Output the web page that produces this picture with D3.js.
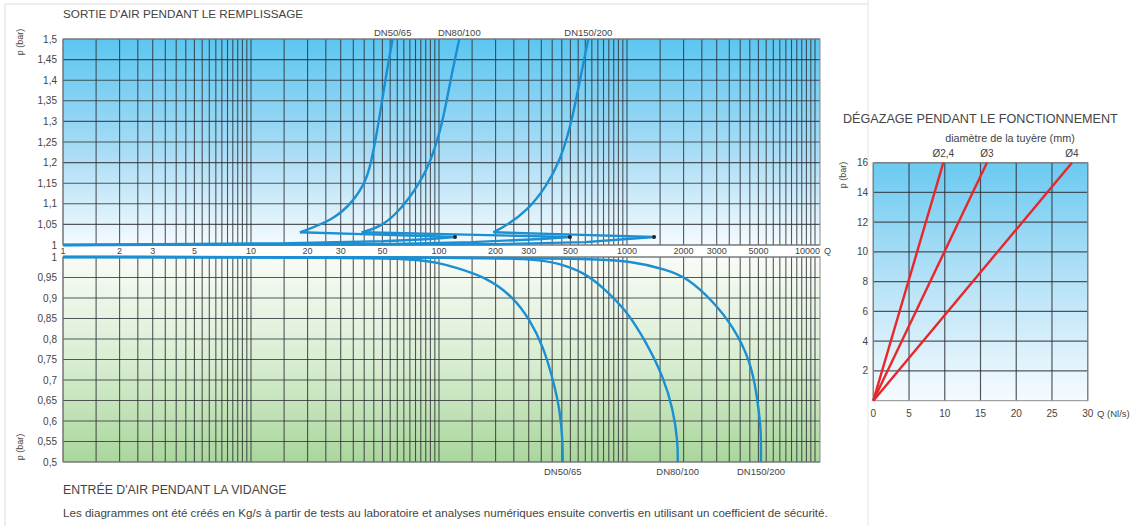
<!DOCTYPE html>
<html>
<head>
<meta charset="utf-8">
<script src="https://cdn.jsdelivr.net/npm/d3@7/dist/d3.min.js"></script>
<style>
  body { margin: 0; background: #fff; }
  text { font-family: "Liberation Sans", Arial, sans-serif; fill: #444; }
</style>
</head>
<body>
<svg id="chart" width="1131" height="526"></svg>
<script>
// ----- Data -----
var qTickLabels = [1, 2, 3, 5, 10, 20, 30, 50, 100, 200, 300, 500, 1000, 2000, 3000, 5000, 10000];
var gridSteps = [1, 1.5, 2, 2.5, 3, 3.5, 4, 4.5, 5, 5.5, 6, 6.5, 7, 7.5, 8, 8.5, 9, 9.5];
var decades = [1, 10, 100, 1000, 10000];
var upperTicks = [1, 1.05, 1.1, 1.15, 1.2, 1.25, 1.3, 1.35, 1.4, 1.45, 1.5];
var lowerTicks = [0.5, 0.55, 0.6, 0.65, 0.7, 0.75, 0.8, 0.85, 0.9, 0.95, 1];

var seriesNames = ['DN50/65', 'DN80/100', 'DN150/200'];

// sortie d'air (Q, p): along p=1 out to the dot, back to the tip (index 6), then up
var outDN50 = [[1, 1.0], [14, 1.004], [50, 1.009], [90, 1.0146], [121.7, 1.0194],
  [47.5, 1.0252], [18.2, 1.0308], [27.4, 1.0607], [35.0, 1.1051], [41.2, 1.1578],
  [43.75, 1.2063], [45.95, 1.2549], [47.97, 1.3034], [50.37, 1.3641], [53.2, 1.432], [56.7, 1.5]];
var outDN80 = [[1, 1.0], [50, 1.002], [150, 1.007], [350, 1.0146], [497, 1.0194],
  [139, 1.0252], [38.8, 1.0308], [48.6, 1.0437], [58.3, 1.0728], [68.4, 1.1092],
  [79.2, 1.1529], [89.6, 1.199], [102.1, 1.279], [110.0, 1.352], [118.1, 1.4248], [128.2, 1.5]];
var outDN150 = [[1, 1.0], [200, 1.002], [600, 1.007], [1000, 1.0146], [1393, 1.0194],
  [520, 1.0252], [194.5, 1.0308], [230.0, 1.0485], [293.9, 1.0825], [374.1, 1.1432],
  [440.2, 1.2063], [485.6, 1.267], [522.6, 1.3277], [569.2, 1.4126], [622.6, 1.5]];
var tipIndex = 6;
var outDots = [[121.7, 1.0194], [497, 1.0194], [1393, 1.0194]];

// entrée d'air (Q, p)
var inDN50 = [[1, 1], [18, 0.999], [70, 0.9976], [101, 0.985], [119, 0.976], [178, 0.951],
  [248, 0.903], [305, 0.846], [359, 0.781], [405, 0.7], [440, 0.627], [455, 0.55], [455, 0.5]];
var inDN80 = [[1, 1], [115, 0.999], [316, 0.9963], [432, 0.985], [586, 0.963], [741, 0.927],
  [989, 0.871], [1273, 0.79], [1560, 0.708], [1763, 0.627], [1862, 0.55], [1862, 0.5]];
var inDN150 = [[1, 1], [562, 0.999], [1077, 0.9895], [1626, 0.969], [2078, 0.95], [2858, 0.893],
  [3675, 0.83], [4510, 0.749], [4897, 0.668], [5143, 0.586], [5160, 0.55], [5160, 0.5]];

// dégazage (Q Nl/s, p bar)
var nozzleNames = ['Ø2,4', 'Ø3', 'Ø4'];
var nozzle24 = [[0, 0], [9.8, 16]];
var nozzle3 = [[0, 0], [15.9, 16]];
var nozzle4 = [[0, 0], [27.8, 16]];
var degQTicks = [0, 5, 10, 15, 20, 25, 30];
var degPTicks = [2, 4, 6, 8, 10, 12, 14, 16];

// ----- Setup -----
var svg = d3.select('#chart');
var comma = function(v) { return String(v).replace('.', ','); };
var blue = '#1b8fd2';
var gridColor = 'rgba(45,48,52,0.8)';

var defs = svg.append('defs');
function gradient(id, stops) {
  var g = defs.append('linearGradient').attr('id', id)
    .attr('x1', 0).attr('y1', 0).attr('x2', 0).attr('y2', 1);
  stops.forEach(function(s) {
    g.append('stop').attr('offset', s[0]).attr('stop-color', s[1]);
  });
}
gradient('gUp', [[0, '#5cc6f1'], [0.55, '#a9dcf5'], [1, '#f4fbfe']]);
gradient('gDown', [[0, '#f8fbf6'], [0.5, '#d9eed3'], [1, '#aad69c']]);
gradient('gDeg', [[0, '#6bcaf1'], [0.5, '#b6e2f7'], [1, '#f6fbfe']]);

// frame
svg.append('line').attr('x1', 5).attr('x2', 868).attr('y1', 4).attr('y2', 4)
  .attr('stroke', '#dcdcdc');
svg.append('line').attr('x1', 5).attr('x2', 5).attr('y1', 4).attr('y2', 526)
  .attr('stroke', '#dcdcdc');
svg.append('line').attr('x1', 868).attr('x2', 868).attr('y1', 0).attr('y2', 526)
  .attr('stroke', '#e4e4e4');

//----- Left chart -----
var x = d3.scaleLog().domain([1, 10000]).range([63, 815]);
var xRight = 820;
var yUp = d3.scaleLinear().domain([1, 1.5]).range([245, 39]);
var yDown = d3.scaleLinear().domain([0.5, 1]).range([462, 257]);

var gridValues = [];
decades.forEach(function(d) {
  gridSteps.forEach(function(s) {
    var v = s * d;
    if (x(v) < xRight - 0.5) gridValues.push(v);
  });
});

function panel(y, ticks, fill) {
  var top = y.range()[1], bottom = y.range()[0];
  var g = svg.append('g');
  g.append('rect').attr('x', x(1)).attr('y', top)
    .attr('width', xRight - x(1)).attr('height', bottom - top)
    .attr('fill', fill);
  g.selectAll('line.v').data(gridValues).enter().append('line')
    .attr('x1', function(d) { return x(d); }).attr('x2', function(d) { return x(d); })
    .attr('y1', top).attr('y2', bottom)
    .attr('stroke', gridColor).attr('stroke-width', 1.1);
  g.selectAll('line.h').data(ticks).enter().append('line')
    .attr('x1', x(1)).attr('x2', xRight)
    .attr('y1', function(d) { return y(d); }).attr('y2', function(d) { return y(d); })
    .attr('stroke', gridColor).attr('stroke-width', 1.1);
  g.append('rect').attr('x', x(1)).attr('y', top)
    .attr('width', xRight - x(1)).attr('height', bottom - top)
    .attr('fill', 'none').attr('stroke', '#8a8a8a');
  g.selectAll('text.yt').data(ticks).enter().append('text')
    .attr('x', 57).attr('y', function(d) { return y(d) + 3.5; })
    .attr('text-anchor', 'end').attr('font-size', 10).attr('fill', '#555')
    .text(comma);
}
panel(yUp, upperTicks, 'url(#gUp)');
panel(yDown, lowerTicks, 'url(#gDown)');

// Q labels between the panels
svg.selectAll('text.qt').data(qTickLabels).enter().append('text')
  .attr('x', function(d) { return x(d); }).attr('y', 254)
  .attr('text-anchor', function(d) { return d === 10000 ? 'end' : 'middle'; })
  .attr('dx', function(d) { return d === 10000 ? 5 : 0; })
  .attr('font-size', 9).attr('fill', '#555')
  .text(function(d) { return d; });
svg.append('text').attr('x', 824).attr('y', 254).attr('font-size', 9)
  .attr('fill', '#555').text('Q');

// curves
var loopLine = d3.line()
  .x(function(d) { return x(d[0]); }).y(function(d) { return yUp(d[1]); });
var riseLine = d3.line()
  .x(function(d) { return x(d[0]); }).y(function(d) { return yUp(d[1]); })
  .curve(d3.curveBasis);
var lineDown = d3.line()
  .x(function(d) { return x(d[0]); }).y(function(d) { return yDown(d[1]); })
  .curve(d3.curveBasis);

[outDN50, outDN80, outDN150].forEach(function(s) {
  svg.append('path').attr('d', loopLine(s.slice(0, tipIndex + 1))).attr('fill', 'none')
    .attr('stroke', blue).attr('stroke-width', 2.4).attr('stroke-linejoin', 'miter');
  svg.append('path').attr('d', riseLine(s.slice(tipIndex))).attr('fill', 'none')
    .attr('stroke', blue).attr('stroke-width', 2.4);
});
[inDN50, inDN80, inDN150].forEach(function(s) {
  svg.append('path').attr('d', lineDown(s)).attr('fill', 'none')
    .attr('stroke', blue).attr('stroke-width', 2.4);
});
svg.selectAll('circle.dot').data(outDots).enter().append('circle')
  .attr('cx', function(d) { return x(d[0]); }).attr('cy', function(d) { return yUp(d[1]); })
  .attr('r', 2).attr('fill', '#222');

// series labels
[outDN50, outDN80, outDN150].forEach(function(s, i) {
  var last = s[s.length - 1];
  svg.append('text').attr('x', x(last[0])).attr('y', 36)
    .attr('text-anchor', 'middle').attr('font-size', 9.5).attr('fill', '#333')
    .text(seriesNames[i]);
});
[inDN50, inDN80, inDN150].forEach(function(s, i) {
  var last = s[s.length - 1];
  svg.append('text').attr('x', x(last[0])).attr('y', 475)
    .attr('text-anchor', 'middle').attr('font-size', 9.5).attr('fill', '#333')
    .text(seriesNames[i]);
});

// titles
svg.append('text').attr('x', 63).attr('y', 18).attr('font-size', 11.7)
  .text("SORTIE D'AIR PENDANT LE REMPLISSAGE");
svg.append('text').attr('x', 63).attr('y', 494).attr('font-size', 12.3)
  .text("ENTRÉE D'AIR PENDANT LA VIDANGE");
svg.append('text').attr('x', 63).attr('y', 517).attr('font-size', 11.6)
  .text('Les diagrammes ont été créés en Kg/s à partir de tests au laboratoire et analyses numériques ensuite convertis en utilisant un coefficient de sécurité.');
svg.append('text').attr('transform', 'translate(23,42) rotate(-90)')
  .attr('text-anchor', 'middle').attr('font-size', 9).attr('fill', '#555').text('p (bar)');
svg.append('text').attr('transform', 'translate(23,447) rotate(-90)')
  .attr('text-anchor', 'middle').attr('font-size', 9).attr('fill', '#555').text('p (bar)');

//----- Right chart -----
var xd = d3.scaleLinear().domain([0, 30]).range([873.3, 1087.7]);
var yd = d3.scaleLinear().domain([0, 16]).range([400.7, 162.7]);
var dg = svg.append('g');
dg.append('rect').attr('x', xd(0)).attr('y', yd(16))
  .attr('width', xd(30) - xd(0)).attr('height', yd(0) - yd(16))
  .attr('fill', 'url(#gDeg)');
dg.selectAll('line.v').data(degQTicks).enter().append('line')
  .attr('x1', function(d) { return xd(d); }).attr('x2', function(d) { return xd(d); })
  .attr('y1', yd(16)).attr('y2', yd(0))
  .attr('stroke', gridColor).attr('stroke-width', 1.2);
dg.selectAll('line.h').data(degPTicks).enter().append('line')
  .attr('x1', xd(0)).attr('x2', xd(30))
  .attr('y1', function(d) { return yd(d); }).attr('y2', function(d) { return yd(d); })
  .attr('stroke', gridColor).attr('stroke-width', 1.2);
dg.append('rect').attr('x', xd(0)).attr('y', yd(16))
  .attr('width', xd(30) - xd(0)).attr('height', yd(0) - yd(16))
  .attr('fill', 'none').attr('stroke', '#8a8a8a');

var lineDeg = d3.line().x(function(d) { return xd(d[0]); }).y(function(d) { return yd(d[1]); });
[nozzle24, nozzle3, nozzle4].forEach(function(s, i) {
  dg.append('path').attr('d', lineDeg(s)).attr('fill', 'none')
    .attr('stroke', '#e8262b').attr('stroke-width', 2.4);
  var last = s[s.length - 1];
  dg.append('text').attr('x', xd(last[0])).attr('y', 157)
    .attr('text-anchor', 'middle').attr('font-size', 10).attr('fill', '#333')
    .text(nozzleNames[i]);
});

dg.selectAll('text.yt').data(degPTicks).enter().append('text')
  .attr('x', 868).attr('y', function(d) { return yd(d) + 3.5; })
  .attr('text-anchor', 'end').attr('font-size', 10).attr('fill', '#555')
  .text(function(d) { return d; });
dg.selectAll('text.xt').data(degQTicks).enter().append('text')
  .attr('x', function(d) { return xd(d); }).attr('y', 416.5)
  .attr('text-anchor', 'middle').attr('font-size', 10).attr('fill', '#555')
  .text(function(d) { return d; });
dg.append('text').attr('x', 1097).attr('y', 416.5).attr('font-size', 9.5)
  .attr('fill', '#555').text('Q (Nl/s)');
dg.append('text').attr('transform', 'translate(846,175) rotate(-90)')
  .attr('text-anchor', 'middle').attr('font-size', 9).attr('fill', '#555').text('p (bar)');

dg.append('text').attr('x', 843).attr('y', 123).attr('font-size', 12.6).attr('fill', '#3a3a3a')
  .text('DÉGAZAGE PENDANT LE FONCTIONNEMENT');
dg.append('text').attr('x', 1010).attr('y', 142).attr('text-anchor', 'middle')
  .attr('font-size', 10.8).attr('fill', '#444').text('diamètre de la tuyère (mm)');
</script>
</body>
</html>
